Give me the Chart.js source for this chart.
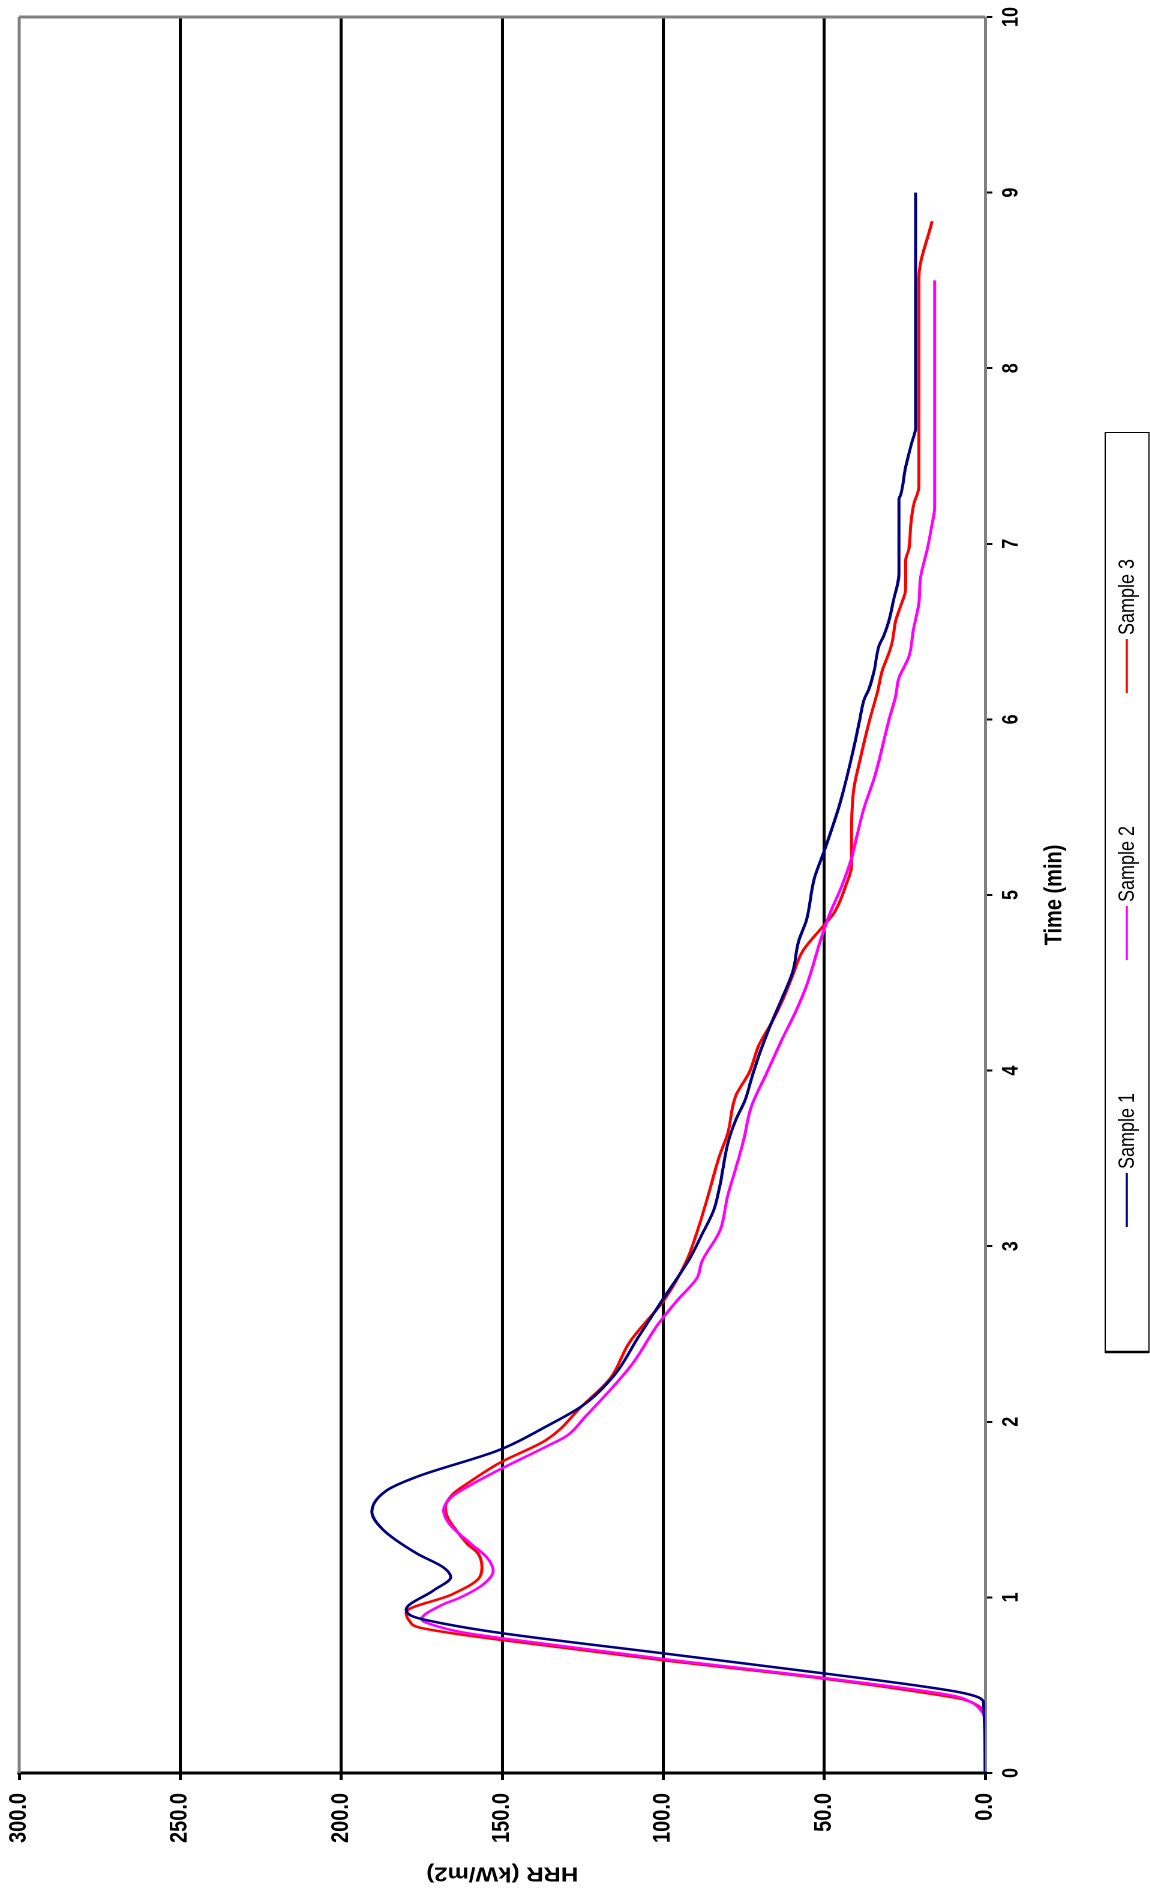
<!DOCTYPE html>
<html>
<head>
<meta charset="utf-8">
<script src="https://cdn.jsdelivr.net/npm/chart.js@4.4.1/dist/chart.umd.min.js"></script>
<style>
  html, body { margin: 0; padding: 0; background: #ffffff; overflow: hidden; width: 1150px; height: 1888px; }
  #wrap { position: absolute; left: 0; top: 0; width: 1888px; height: 958px;
          transform-origin: 0 0; transform: translate(0px, 1888px) rotate(-90deg) scale(1, 1.2); }
</style>
</head>
<body>
<div id="wrap"><canvas id="c" width="1888" height="958"></canvas></div>
<script>
// ---- Data (time in min, HRR in kW/m2) ----
const seriesNames = ['Sample 1', 'Sample 2', 'Sample 3'];
const seriesColors = ['#000080', '#FF00FF', '#FF0000'];

const time1 = [0, 0.40, 0.43, 0.46, 0.50, 0.566, 0.681, 0.796, 0.85, 0.89, 0.93, 1.04, 1.115, 1.17, 1.25, 1.384, 1.488, 1.61, 1.687, 1.839, 1.975, 2.09, 2.263, 2.474, 2.69, 2.916, 3.069, 3.206, 3.344, 3.58, 3.717, 3.835, 3.953, 4.09, 4.267, 4.424, 4.562, 4.739, 4.857, 5.092, 5.25, 5.485, 5.603, 5.839, 5.996, 6.112, 6.173, 6.276, 6.418, 6.48, 6.561, 6.684, 6.827, 7.255, 7.276, 7.439, 7.582, 7.663, 9.0];
const hrr1  = [0, 0.5, 2, 8, 22, 49.6, 99.8, 150, 168, 177.5, 179.8, 171.3, 166, 168.2, 176.5, 186.9, 190.5, 185.8, 176.5, 151, 136.2, 125.2, 115.3, 108, 100.4, 92.2, 87.9, 84.3, 82.4, 80, 77.5, 74.5, 72.6, 70.2, 66.5, 62.8, 59.8, 57.9, 55.5, 53.1, 50, 45.7, 43.9, 40.8, 39, 37.6, 36.1, 34.5, 33, 31.4, 29.9, 28.4, 26.8, 26.8, 26.3, 24.7, 22.7, 21.6, 21.6];

const time2 = [0, 0.32, 0.36, 0.40, 0.44, 0.537, 0.645, 0.76, 0.80, 0.84, 0.875, 0.959, 0.997, 1.074, 1.150, 1.227, 1.304, 1.419, 1.496, 1.572, 1.63, 1.726, 1.86, 1.918, 2.033, 2.205, 2.339, 2.55, 2.69, 2.819, 2.916, 3.088, 3.285, 3.442, 3.599, 3.796, 3.992, 4.189, 4.326, 4.483, 4.621, 4.739, 4.896, 5.053, 5.21, 5.308, 5.485, 5.682, 5.996, 6.133, 6.235, 6.316, 6.357, 6.52, 6.663, 6.806, 6.969, 7.112, 7.204, 8.5];
const hrr2  = [0, 0.3, 1.5, 4, 10, 48, 98, 147, 162, 171, 175, 168.5, 163.3, 155.9, 152.8, 154.7, 159.6, 166.4, 168.2, 165.7, 160.8, 151, 136.2, 130.1, 124, 115.3, 109.2, 101.8, 95.7, 89.5, 87.9, 82.4, 80, 77.5, 75.1, 72.6, 67.7, 62.8, 59.1, 55.5, 53.1, 51.2, 48.2, 44.5, 41.5, 40.2, 37.8, 34.2, 29.9, 27.8, 26.8, 24.7, 23.7, 22.2, 20.6, 20.1, 18, 16.5, 15.7, 15.7];

const time3 = [0, 0.30, 0.35, 0.383, 0.42, 0.44, 0.537, 0.642, 0.757, 0.80, 0.83, 0.871, 0.915, 1.016, 1.112, 1.175, 1.25, 1.304, 1.40, 1.457, 1.515, 1.592, 1.649, 1.764, 1.898, 2.09, 2.244, 2.454, 2.704, 2.916, 3.069, 3.285, 3.521, 3.639, 3.855, 3.992, 4.149, 4.267, 4.405, 4.542, 4.68, 4.817, 4.896, 5.053, 5.171, 5.348, 5.603, 5.76, 5.996, 6.153, 6.276, 6.378, 6.439, 6.561, 6.643, 6.745, 6.908, 6.969, 7.092, 7.224, 7.327, 8.51, 8.837];
const hrr3  = [0, 0, 0.5, 2.2, 7, 13, 50, 100, 150, 167, 176, 179, 179.8, 165.7, 157.1, 156.3, 157.5, 160.8, 165, 167, 167.6, 165.1, 160.8, 151, 136.2, 125.2, 116.6, 110.4, 99.3, 92.8, 89.7, 86.1, 82.4, 80, 77.5, 73.2, 70.2, 66.5, 62.8, 59.8, 56.7, 50.6, 47, 43.3, 41.5, 41.5, 40.8, 39, 35.9, 33.5, 32, 29.9, 28.9, 27.8, 26.3, 24.7, 24.7, 23.7, 23.2, 22.2, 20.6, 20.6, 16.5];

const timeTicks = [0, 1, 2, 3, 4, 5, 6, 7, 8, 9, 10];
const hrrTicks = [0, 50, 100, 150, 200, 250, 300];
const xTitle = 'Time (min)';
const yTitle = 'HRR (kW/m2)';

// ---- build datasets ----
function pts(t, h) { return t.map((v, i) => ({ x: v, y: h[i] })); }
const seriesTimes = [time1, time2, time3];
const seriesHrr = [hrr1, hrr2, hrr3];
const datasets = seriesNames.map((name, i) => ({
  label: name,
  data: pts(seriesTimes[i], seriesHrr[i]),
  borderColor: seriesColors[i],
  backgroundColor: seriesColors[i],
  borderWidth: 2.5,
  pointRadius: 0,
  fill: false,
  cubicInterpolationMode: 'monotone'
}));

const FONT = "'Liberation Sans', Arial, sans-serif";

const framePlugin = {
  id: 'frame',
  beforeDatasetsDraw(chart) {
    const { ctx, chartArea: a } = chart;
    ctx.save();
    ctx.strokeStyle = '#808080';
    ctx.lineWidth = 2.5;
    ctx.beginPath();
    ctx.moveTo(a.left, a.top); ctx.lineTo(a.right, a.top);
    ctx.stroke();
    ctx.lineWidth = 3;
    ctx.beginPath();
    ctx.moveTo(a.right, a.top); ctx.lineTo(a.right, a.bottom);
    ctx.stroke();
    ctx.restore();
  }
};

const legendPlugin = {
  id: 'customLegend',
  afterDraw(chart) {
    const { ctx } = chart;
    const boxL = 535, boxR = 1455, boxT = 921, boxB = 957.5;
    ctx.save();
    ctx.strokeStyle = '#000';
    ctx.lineWidth = 1;
    ctx.strokeRect(boxL + 0.5, boxT, boxR - boxL, boxB - boxT);
    ctx.lineWidth = 2.5;
    ctx.beginPath(); ctx.moveTo(boxL + 1, boxT); ctx.lineTo(boxL + 1, boxB); ctx.stroke();
    const cy = 939;
    ctx.font = '18px ' + FONT;
    ctx.textBaseline = 'middle';
    ctx.textAlign = 'left';
    chart.data.datasets.forEach((ds, i) => {
      const u0 = 661 + i * 267;
      ctx.strokeStyle = ds.borderColor;
      ctx.lineWidth = 1.8;
      ctx.beginPath(); ctx.moveTo(u0, cy); ctx.lineTo(u0 + 54, cy); ctx.stroke();
      ctx.fillStyle = '#000';
      ctx.fillText(ds.label, u0 + 58, cy + 1);
    });
    ctx.restore();
  }
};

new Chart(document.getElementById('c'), {
  type: 'line',
  data: { datasets },
  plugins: [framePlugin, legendPlugin],
  options: {
    responsive: false,
    animation: false,
    devicePixelRatio: 2,
    layout: { padding: { left: 0, right: 17, top: 16, bottom: 57 } },
    plugins: { legend: { display: false }, tooltip: { enabled: false } },
    scales: {
      x: {
        type: 'linear',
        min: timeTicks[0], max: timeTicks[timeTicks.length - 1],
        afterBuildTicks: (s) => { s.ticks = timeTicks.map(v => ({ value: v })); },
        afterFit: (s) => { s.height = 80; s.paddingLeft = 0; s.paddingRight = 0; },
        ticks: {
          color: '#000', padding: 5, maxRotation: 0, autoSkip: false,
          font: { family: FONT, size: 18, weight: 'bold' },
          callback: (v) => String(v)
        },
        grid: { drawOnChartArea: false, drawTicks: true, tickLength: 6, tickColor: '#000', tickWidth: 2 },
        border: { display: true, color: '#808080', width: 2.5 },
        title: { display: true, text: xTitle, color: '#000', padding: { top: 0, bottom: 10 },
                 font: { family: FONT, size: 20, weight: 'bold' } }
      },
      y: {
        type: 'linear',
        min: hrrTicks[0], max: hrrTicks[hrrTicks.length - 1],
        afterBuildTicks: (s) => { s.ticks = hrrTicks.map(v => ({ value: v })); },
        afterFit: (s) => { s.width = 115; s.paddingTop = 0; s.paddingBottom = 0; },
        ticks: {
          color: '#000', padding: 13, autoSkip: false,
          font: { family: FONT, size: 20, weight: 'bold' },
          callback: (v) => Number(v).toFixed(1)
        },
        grid: {
          color: (c) => (c.tick && (c.tick.value === hrrTicks[0] || c.tick.value === hrrTicks[hrrTicks.length - 1])) ? 'rgba(0,0,0,0)' : '#000',
          lineWidth: 2.5, tickLength: 7, tickColor: '#000', tickWidth: 2.5
        },
        border: { display: true, color: '#000', width: 3 },
        title: { display: true, text: yTitle, color: '#000', padding: { top: 3, bottom: 0 },
                 font: { family: FONT, size: 20, weight: 'bold' } }
      }
    }
  }
});
</script>
</body>
</html>
